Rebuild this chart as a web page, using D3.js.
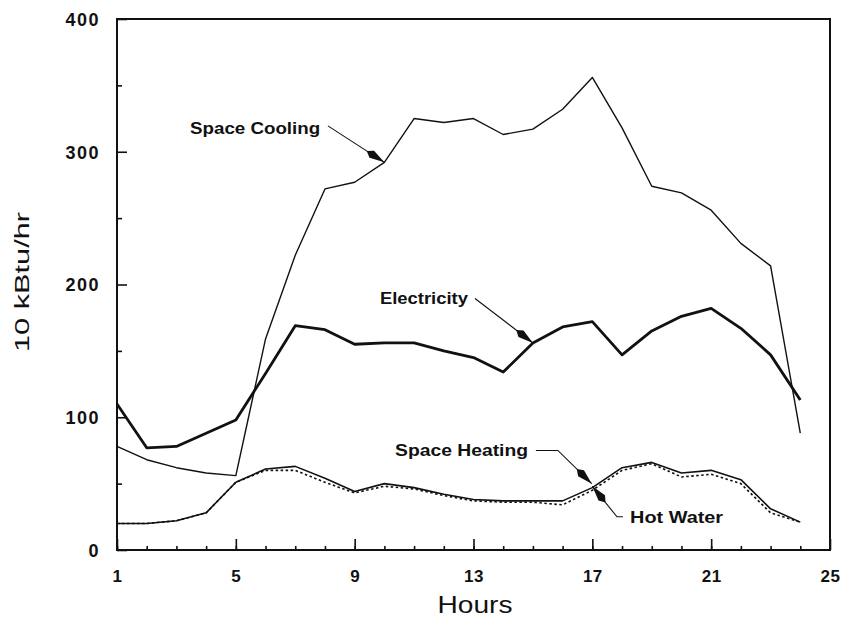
<!DOCTYPE html>
<html>
<head>
<meta charset="utf-8">
<script src="https://cdn.jsdelivr.net/npm/d3@7/dist/d3.min.js"></script>
<style>
  html, body { margin: 0; padding: 0; background: #fff; }
  svg { display: block; font-family: "Liberation Sans", Arial, sans-serif; }
  .tick line { stroke: #111; stroke-width: 1.6; }
  .tick text { fill: #111; font-weight: bold; }
</style>
</head>
<body>
<svg id="chart" width="841" height="622"></svg>
<script>
// hourly loads (units of 10 kBtu/hr)
const hours = d3.range(1, 25);
const spaceCooling = [78, 68, 62, 58, 56, 159, 222, 272, 277, 292, 325, 322, 325, 313, 317, 332, 356, 318, 274, 269, 256, 231, 214, 88];
const electricity  = [110, 77, 78, 88, 98, 133, 169, 166, 155, 156, 156, 150, 145, 134, 156, 168, 172, 147, 165, 176, 182, 167, 147, 113];
const spaceHeating = [20, 20, 22, 28, 51, 61, 63, 54, 44, 50, 47, 42, 38, 37, 37, 37, 47, 62, 66, 58, 60, 53, 31, 21];
const hotWater     = [20, 20, 22, 28, 51, 60, 60, 51, 43, 48, 46, 41, 37, 36, 36, 34, 45, 60, 65, 55, 57, 50, 28, 21];

const xMajorTicks = [1, 5, 9, 13, 17, 21, 25];
const yMajorTicks = [0, 100, 200, 300, 400];
const yMinorTicks = [50, 150, 250, 350];

// callout labels: text anchor point and leader path in data units (hour, value)
const callouts = [
  { text: 'Space Cooling', at: [3.46, 318], len: 130, path: [[8.1, 319.5], [10, 292]] },
  { text: 'Electricity',   at: [9.85, 189.5], len: 88, path: [[13.05, 189.5], [15, 156]] },
  { text: 'Space Heating', at: [10.36, 75], len: 133, path: [[15.1, 75], [15.84, 75], [16.98, 50]] },
  { text: 'Hot Water',     at: [18.27, 25], len: 93, path: [[18.03, 25], [17.83, 25], [17.0, 48]] }
];

const margin = { top: 19, right: 11, bottom: 72, left: 117 };
const width = 841 - margin.left - margin.right;
const height = 622 - margin.top - margin.bottom;

const svg = d3.select('#chart');
const g = svg.append('g').attr('transform', `translate(${margin.left},${margin.top})`);

const x = d3.scaleLinear().domain([1, 25]).range([0, width]);
const y = d3.scaleLinear().domain([0, 400]).range([height, 0]);

svg.append('defs').append('marker')
  .attr('id', 'arrow')
  .attr('markerUnits', 'userSpaceOnUse')
  .attr('viewBox', '0 -5 22 10')
  .attr('refX', 21).attr('refY', 0)
  .attr('markerWidth', 22).attr('markerHeight', 10)
  .attr('orient', 'auto')
  .append('path').attr('d', 'M0,0L6,-4.2L21,0L6,4.2Z').attr('fill', '#111');

// axes with inward ticks
const yAxis = g.append('g')
  .call(d3.axisLeft(y).tickValues(yMajorTicks).tickSize(-10).tickPadding(17).tickFormat(d3.format('d')));
yAxis.selectAll('text').style('font-size', '18px').style('letter-spacing', '1.5px').attr('dy', '0.36em');
g.append('g').call(d3.axisLeft(y).tickValues(yMinorTicks).tickSize(-5).tickFormat(''));

const xAxis = g.append('g').attr('transform', `translate(0,${height})`)
  .call(d3.axisBottom(x).tickValues(xMajorTicks).tickSize(-11).tickPadding(20));
xAxis.selectAll('text').style('font-size', '17px').style('letter-spacing', '0.5px');
g.append('g').attr('transform', `translate(0,${height})`)
  .call(d3.axisBottom(x).tickValues(d3.range(1, 25)).tickSize(-4).tickFormat(''));

g.selectAll('.domain').remove();

g.append('rect')
  .attr('width', width).attr('height', height)
  .attr('fill', 'none').attr('stroke', '#111').attr('stroke-width', 2);

const line = d3.line().x((d, i) => x(hours[i])).y(d => y(d));

const series = [
  { values: hotWater, width: 1.6, dash: '2.5,2.5' },
  { values: spaceHeating, width: 1.6, dash: null },
  { values: spaceCooling, width: 1.4, dash: null },
  { values: electricity, width: 2.8, dash: null }
];

g.selectAll('path.series').data(series).join('path')
  .attr('class', 'series')
  .attr('d', d => line(d.values))
  .attr('fill', 'none')
  .attr('stroke', '#111')
  .attr('stroke-width', d => d.width)
  .attr('stroke-linejoin', 'round')
  .attr('stroke-dasharray', d => d.dash);

// callouts
const leader = d3.line().x(d => x(d[0])).y(d => y(d[1]));
g.selectAll('path.leader').data(callouts).join('path')
  .attr('class', 'leader')
  .attr('d', d => leader(d.path))
  .attr('fill', 'none')
  .attr('stroke', '#111')
  .attr('stroke-width', 1.1)
  .attr('marker-end', 'url(#arrow)');

g.selectAll('text.callout').data(callouts).join('text')
  .attr('class', 'callout')
  .attr('x', d => x(d.at[0]))
  .attr('y', d => y(d.at[1]))
  .attr('dy', '0.36em')
  .attr('textLength', d => d.len)
  .attr('lengthAdjust', 'spacingAndGlyphs')
  .style('font-size', '16px')
  .style('font-weight', 'bold')
  .attr('fill', '#111')
  .text(d => d.text);

// axis titles
svg.append('text')
  .attr('x', 475).attr('y', 613)
  .attr('text-anchor', 'middle')
  .attr('textLength', 75).attr('lengthAdjust', 'spacingAndGlyphs')
  .style('font-size', '24px').attr('fill', '#111')
  .text('Hours');

svg.append('text')
  .attr('transform', 'translate(29,282) rotate(-90)')
  .attr('text-anchor', 'middle')
  .attr('textLength', 140).attr('lengthAdjust', 'spacingAndGlyphs')
  .style('font-size', '21px').attr('fill', '#111')
  .text('10 kBtu/hr');
</script>
</body>
</html>
